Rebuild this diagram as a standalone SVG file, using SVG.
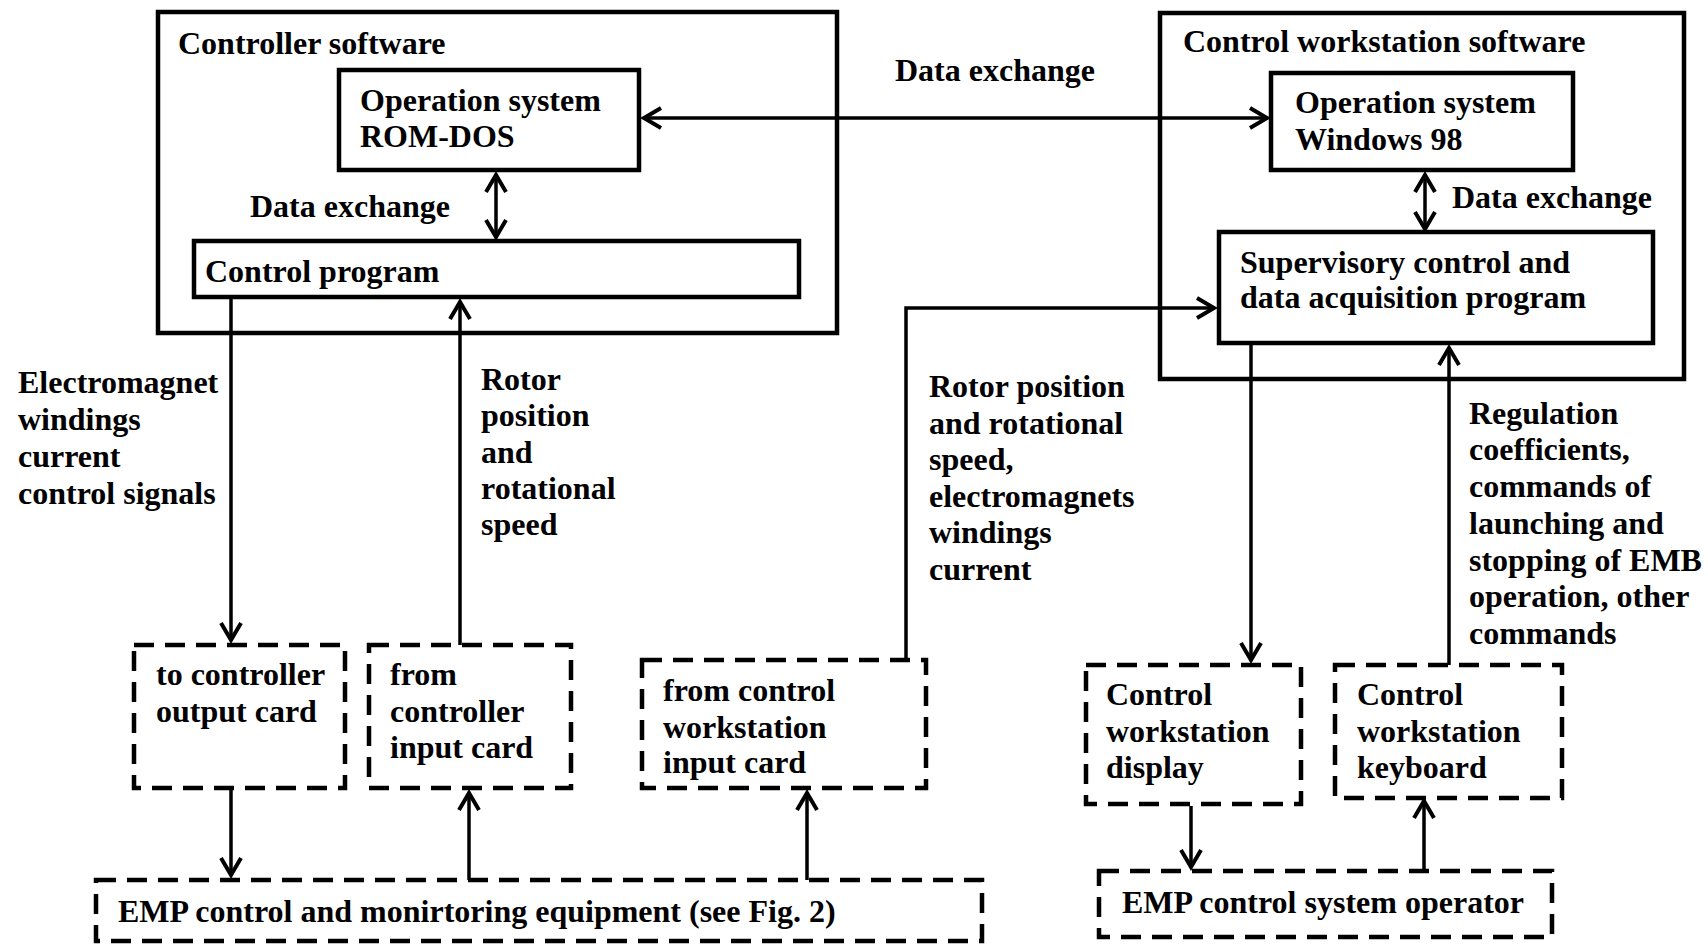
<svg xmlns="http://www.w3.org/2000/svg" width="1708" height="949" viewBox="0 0 1708 949">
<style>
text{font-family:"Liberation Serif","Times New Roman",serif;font-weight:bold;font-size:32px;fill:#000}
.box{fill:none;stroke:#000;stroke-width:4.5}
.dbox{fill:none;stroke:#000;stroke-width:4.5;stroke-dasharray:20 11}
.con{fill:none;stroke:#000;stroke-width:3.5}
.arr{marker-end:url(#ah)}
.dbl{marker-end:url(#ah);marker-start:url(#ah)}
</style>
<defs>
<marker id="ah" markerUnits="userSpaceOnUse" markerWidth="30" markerHeight="30" viewBox="-22 -15 26 30" refX="0" refY="0" orient="auto-start-reverse">
<path d="M-17,-10 L0,0 L-17,10" fill="none" stroke="#000" stroke-width="4"/>
</marker>
</defs>
<rect width="1708" height="949" fill="#fff"/>

<g id="controller-software">
<rect class="box" x="158" y="12" width="679" height="321"/>
<text x="178" y="54">Controller software</text>
</g>
<g id="rom-dos">
<rect class="box" x="339" y="70" width="300" height="100"/>
<text x="360" y="111">Operation system</text>
<text x="360" y="147">ROM-DOS</text>
</g>
<g id="control-program">
<rect class="box" x="194" y="241" width="605" height="56"/>
<text x="205" y="282">Control program</text>
</g>
<g id="workstation-software">
<rect class="box" x="1160" y="13" width="524" height="366"/>
<text x="1183" y="52">Control workstation software</text>
</g>
<g id="windows98">
<rect class="box" x="1271" y="73" width="302" height="97"/>
<text x="1295" y="113">Operation system</text>
<text x="1295" y="150">Windows 98</text>
</g>
<g id="scada">
<rect class="box" x="1219" y="232" width="434" height="111"/>
<text x="1240" y="273">Supervisory control and</text>
<text x="1240" y="308">data acquisition program</text>
</g>
<g id="output-card">
<rect class="dbox" x="134" y="645" width="211" height="143"/>
<text x="156" y="685">to controller</text>
<text x="156" y="722">output card</text>
</g>
<g id="input-card">
<rect class="dbox" x="369" y="645" width="202" height="143"/>
<text x="390" y="685">from</text>
<text x="390" y="722">controller</text>
<text x="390" y="758">input card</text>
</g>
<g id="ws-input-card">
<rect class="dbox" x="642" y="660" width="284" height="128"/>
<text x="663" y="701">from control</text>
<text x="663" y="738">workstation</text>
<text x="663" y="773">input card</text>
</g>
<g id="emp-equipment">
<rect class="dbox" x="96" y="880" width="886" height="61"/>
<text x="118" y="922">EMP control and monirtoring equipment (see Fig. 2)</text>
</g>
<g id="display">
<rect class="dbox" x="1086" y="665" width="215" height="139"/>
<text x="1106" y="705">Control</text>
<text x="1106" y="742">workstation</text>
<text x="1106" y="778">display</text>
</g>
<g id="keyboard">
<rect class="dbox" x="1335" y="665" width="227" height="133"/>
<text x="1357" y="705">Control</text>
<text x="1357" y="742">workstation</text>
<text x="1357" y="778">keyboard</text>
</g>
<g id="operator">
<rect class="dbox" x="1099" y="871" width="453" height="66"/>
<text x="1122" y="913">EMP control system operator</text>
</g>

<g id="connectors">
<line class="con dbl" x1="644" y1="118" x2="1267" y2="118"/>
<line class="con dbl" x1="496" y1="175" x2="496" y2="237"/>
<line class="con dbl" x1="1425" y1="175" x2="1425" y2="229"/>
<line class="con arr" x1="231" y1="299" x2="231" y2="640"/>
<line class="con arr" x1="460" y1="645" x2="460" y2="302"/>
<line class="con arr" x1="231" y1="790" x2="231" y2="875"/>
<line class="con arr" x1="469" y1="880" x2="469" y2="793"/>
<line class="con arr" x1="807" y1="880" x2="807" y2="793"/>
<path class="con arr" d="M906,660 V308 H1214"/>
<line class="con arr" x1="1251" y1="345" x2="1251" y2="660"/>
<line class="con arr" x1="1449" y1="665" x2="1449" y2="348"/>
<line class="con arr" x1="1191" y1="806" x2="1191" y2="867"/>
<line class="con arr" x1="1424" y1="871" x2="1424" y2="801"/>
</g>

<g id="labels">
<text x="895" y="81">Data exchange</text>
<text x="250" y="217">Data exchange</text>
<text x="1452" y="208">Data exchange</text>
<text x="18" y="393">Electromagnet</text>
<text x="18" y="430">windings</text>
<text x="18" y="467">current</text>
<text x="18" y="504">control signals</text>
<text x="481" y="390">Rotor</text>
<text x="481" y="426">position</text>
<text x="481" y="463">and</text>
<text x="481" y="499">rotational</text>
<text x="481" y="535">speed</text>
<text x="929" y="397">Rotor position</text>
<text x="929" y="434">and rotational</text>
<text x="929" y="470">speed,</text>
<text x="929" y="507">electromagnets</text>
<text x="929" y="543">windings</text>
<text x="929" y="580">current</text>
<text x="1469" y="424">Regulation</text>
<text x="1469" y="460">coefficients,</text>
<text x="1469" y="497">commands of</text>
<text x="1469" y="534">launching and</text>
<text x="1469" y="571">stopping of EMB</text>
<text x="1469" y="607">operation, other</text>
<text x="1469" y="644">commands</text>
</g>
</svg>
